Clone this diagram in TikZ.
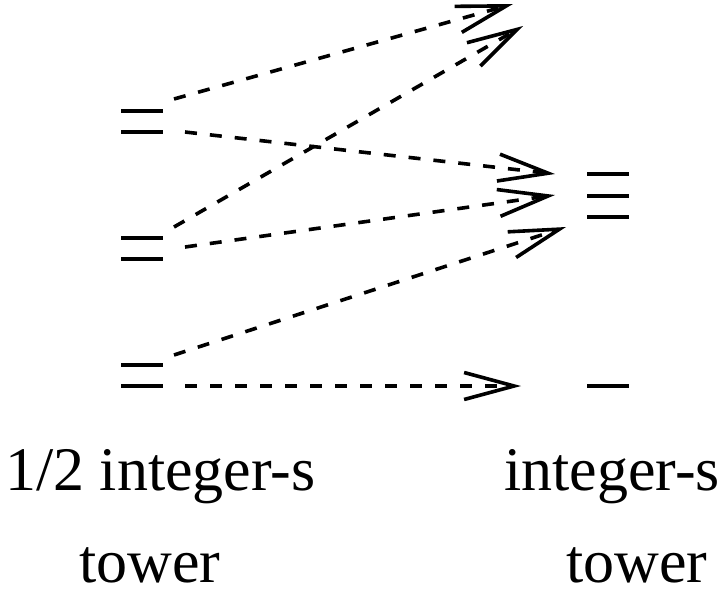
\documentclass[tikz,border=0pt]{standalone}
\usepackage{fontspec}
\setmainfont{Liberation Serif}
\usetikzlibrary{arrows.meta}
\begin{document}
\begin{tikzpicture}[x=1pt,y=-1pt,
  bar/.style={line width=4pt},
  link/.style={line width=3.6pt, dash pattern=on 12pt off 13pt,
    -{Straight Barb[length=50pt,width=27pt,line width=3.6pt]}},
  lbl/.style={anchor=base west, inner sep=0pt, font=\fontsize{62}{70}\selectfont}]
\useasboundingbox (0,0) rectangle (725,595);
% left "=" marks
\coordinate (L1) at (142,121.5);
\coordinate (L2) at (142,248);
\coordinate (L3) at (142,375.5);
\foreach \n in {L1,L2,L3}{
  \draw[bar] ([xshift=-21pt,yshift=-10.5pt]\n) -- ([xshift=21pt,yshift=-10.5pt]\n);
  \draw[bar] ([xshift=-21pt,yshift=10.5pt]\n) -- ([xshift=21pt,yshift=10.5pt]\n);
}
% right marks
\coordinate (R1) at (608,195.5);
\coordinate (R2) at (608,386);
\draw[bar] ([xshift=-21pt,yshift=-21.5pt]R1) -- ([xshift=21pt,yshift=-21.5pt]R1);
\draw[bar] ([xshift=-21pt]R1) -- ([xshift=21pt]R1);
\draw[bar] ([xshift=-21pt,yshift=21.5pt]R1) -- ([xshift=21pt,yshift=21.5pt]R1);
\draw[bar] ([xshift=-21pt]R2) -- ([xshift=21pt]R2);
% connector ends
\coordinate (s1) at (174,99);
\coordinate (s2) at (174,227);
\coordinate (s3) at (185,132);
\coordinate (s4) at (185,247);
\coordinate (s5) at (174,355);
\coordinate (s6) at (185,386);
\coordinate (t1) at (513,4);
\coordinate (t2) at (523,26);
\coordinate (t3) at (555,174);
\coordinate (t4) at (555,195);
\coordinate (t5) at (566,227);
\coordinate (t6) at (521,386);
\draw[link] (s1) -- (t1);
\draw[link] (s2) -- (t2);
\draw[link] (s3) -- (t3);
\draw[link] (s4) -- (t4);
\draw[link] (s5) -- (t5);
\draw[link] (s6) -- (t6);
% labels
\node[lbl] (lt1) at (5,490) {1/2 integer-s};
\node[lbl] (lt2) at (79,582) {tower};
\node[lbl] (rt1) at (504,490) {integer-s};
\node[lbl] (rt2) at (566,582) {tower};
\end{tikzpicture}
\end{document}
